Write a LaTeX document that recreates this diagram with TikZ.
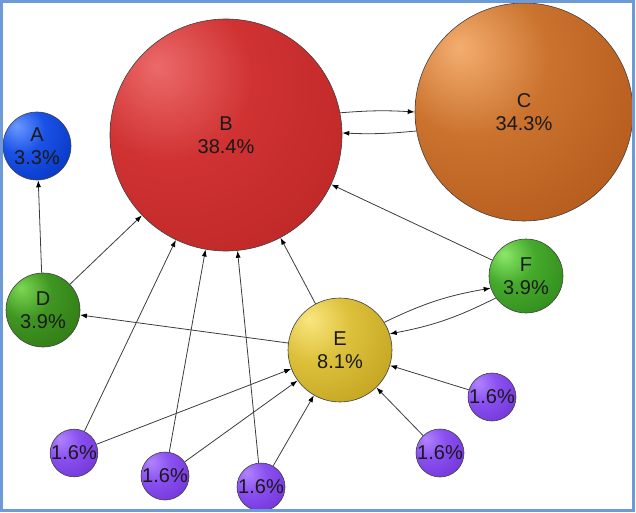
\documentclass[tikz,border=0pt]{standalone}
\usepackage{fontspec}
\setmainfont{Liberation Sans}
\usetikzlibrary{arrows.meta}

% ball colours: highlight / body / rim
\definecolor{Ain}{HTML}{6A98FF}\definecolor{Amid}{HTML}{1A52E6}\definecolor{Aout}{HTML}{002CB8}
\definecolor{Bin}{HTML}{EC6A6A}\definecolor{Bmid}{HTML}{D03232}\definecolor{Bout}{HTML}{B82424}
\definecolor{Cin}{HTML}{F4AE70}\definecolor{Cmid}{HTML}{CA722E}\definecolor{Cout}{HTML}{AC5216}
\definecolor{Din}{HTML}{7CD852}\definecolor{Dmid}{HTML}{409622}\definecolor{Dout}{HTML}{2A7010}
\definecolor{Ein}{HTML}{FAE680}\definecolor{Emid}{HTML}{DCC03A}\definecolor{Eout}{HTML}{B89818}
\definecolor{Fin}{HTML}{8CE86A}\definecolor{Fmid}{HTML}{46AA2C}\definecolor{Fout}{HTML}{288016}
\definecolor{Pin}{HTML}{B084FF}\definecolor{Pmid}{HTML}{8A50F0}\definecolor{Pout}{HTML}{6A2CD0}
\definecolor{frameblue}{HTML}{6C9BD8}
\definecolor{linkgray}{HTML}{3C3C3C}

% radial shading with the highlight up and to the left
\newcommand{\makeballshading}[4]{%
  \pgfdeclareradialshading{#1}{\pgfpoint{-15bp}{15bp}}{%
    color(0bp)=(#2); color(18bp)=(#3); color(50bp)=(#4); color(100bp)=(#4)}}
\makeballshading{ballA}{Ain}{Amid}{Aout}
\makeballshading{ballB}{Bin}{Bmid}{Bout}
\makeballshading{ballC}{Cin}{Cmid}{Cout}
\makeballshading{ballD}{Din}{Dmid}{Dout}
\makeballshading{ballE}{Ein}{Emid}{Eout}
\makeballshading{ballF}{Fin}{Fmid}{Fout}
\makeballshading{ballP}{Pin}{Pmid}{Pout}

\tikzset{
  page/.style={circle, draw=black!75, line width=0.6pt, inner sep=0pt,
    align=center, text=black!90,
    font=\fontsize{20}{23}\selectfont, shading=#1},
  link/.style={draw=linkgray, line width=0.8pt,
    -{Latex[length=7pt,width=5pt,color=black]}},
}

\begin{document}
\begin{tikzpicture}[x=1pt, y=-1pt]
  \useasboundingbox (0,0) rectangle (636,513);

  % pages, sized by rank
  \node[page=ballA, minimum size=68pt]  (A) at (37,146)  {A\\3.3\%};
  \node[page=ballB, minimum size=232pt] (B) at (226,135) {B\\38.4\%};
  \node[page=ballC, minimum size=218pt] (C) at (524,112) {C\\34.3\%};
  \node[page=ballD, minimum size=74pt]  (D) at (43,310)  {D\\3.9\%};
  \node[page=ballE, minimum size=104pt] (E) at (340,350) {E\\8.1\%};
  \node[page=ballF, minimum size=74pt]  (F) at (526,276) {F\\3.9\%};
  \node[page=ballP, minimum size=47pt]  (P1) at (74,453)  {1.6\%};
  \node[page=ballP, minimum size=48pt]  (P2) at (165,476) {1.6\%};
  \node[page=ballP, minimum size=48pt]  (P3) at (261,487) {1.6\%};
  \node[page=ballP, minimum size=48pt]  (P4) at (440,453) {1.6\%};
  \node[page=ballP, minimum size=48pt]  (P5) at (492,397) {1.6\%};

  % links
  \draw[link] (B.11) to[bend left=4] (C.180);
  \draw[link] (C.190) to[bend left=4] (B.1);
  \draw[link] (D) -- (A);
  \draw[link] (D) -- (B);
  \draw[link] (E) -- (D);
  \draw[link] (E) -- (B);
  \draw[link] (F) -- (B);
  \draw[link] (E.32) to[bend left=8] (F.199);
  \draw[link] (F.216) to[bend left=8] (E.18);
  \draw[link] (P1) -- (B);
  \draw[link] (P1) -- (E);
  \draw[link] (P2) -- (B);
  \draw[link] (P2) -- (E);
  \draw[link] (P3) -- (B);
  \draw[link] (P3) -- (E);
  \draw[link] (P4) -- (E);
  \draw[link] (P5) -- (E);

  % frame
  \draw[frameblue, line width=2.2pt] (1.5,1.5) rectangle (633.5,510.5);
\end{tikzpicture}
\end{document}
